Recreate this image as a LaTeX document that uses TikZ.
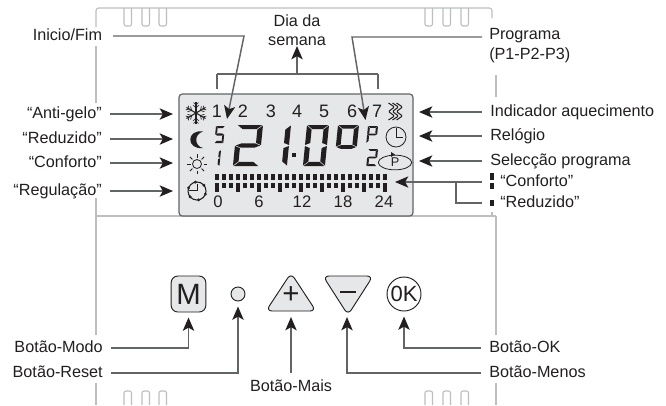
\documentclass[tikz,border=0pt]{standalone}
\usepackage{fontspec}
\setmainfont{Liberation Sans}
\usetikzlibrary{arrows.meta,shapes.geometric,calc}
\definecolor{ink}{HTML}{231F20}
\definecolor{wire}{HTML}{636466}
\definecolor{shell}{HTML}{BCBEC0}
\definecolor{panel}{HTML}{E6E7E8}
\newcommand{\sgx}{.2}\newcommand{\sgy}{.1}\newcommand{\sgp}{.03}\newcommand{\sgq}{.012}
\newcommand{\sega}{\fill (\sgp,0)--({1-\sgp},0)--({1-\sgp-\sgx},\sgy)--({\sgp+\sgx},\sgy)--cycle;}
\newcommand{\segd}{\fill (\sgp,1)--({1-\sgp},1)--({1-\sgp-\sgx},{1-\sgy})--({\sgp+\sgx},{1-\sgy})--cycle;}
\newcommand{\segg}{\fill (\sgp,.5)--({\sgp+\sgx},{.5-\sgy/2})--({1-\sgp-\sgx},{.5-\sgy/2})--({1-\sgp},.5)--({1-\sgp-\sgx},{.5+\sgy/2})--({\sgp+\sgx},{.5+\sgy/2})--cycle;}
\newcommand{\segf}{\fill (0,\sgq)--(\sgx,{\sgq+\sgy})--(\sgx,{.5-\sgq-\sgy/2})--(0,{.5-\sgq})--cycle;}
\newcommand{\sege}{\fill (0,{.5+\sgq})--(\sgx,{.5+\sgq+\sgy/2})--(\sgx,{1-\sgq-\sgy})--(0,{1-\sgq})--cycle;}
\newcommand{\segb}{\fill (1,\sgq)--({1-\sgx},{\sgq+\sgy})--({1-\sgx},{.5-\sgq-\sgy/2})--(1,{.5-\sgq})--cycle;}
\newcommand{\segc}{\fill (1,{.5+\sgq})--({1-\sgx},{.5+\sgq+\sgy/2})--({1-\sgx},{1-\sgq-\sgy})--(1,{1-\sgq})--cycle;}
% x, y of top-left; width; height; x-thickness; y-thickness; segments
\newcommand{\sevenseg}[7]{\begin{scope}[shift={(#1,#2)},x={(#3*0.75pt,0pt)},y={(-0.1*#4*0.75pt,-#4*0.75pt)},ink]
\renewcommand{\sgx}{#5}\renewcommand{\sgy}{#6}
\foreach \sgname in {#7}{\csname seg\sgname\endcsname}
\end{scope}}
\tikzset{
  x=0.75pt,y=-0.75pt,
  lbl/.style={font=\fontsize{12.15}{14}\selectfont,text=ink,inner ysep=0pt,inner xsep=6pt,text height=9pt,text depth=3pt},
  lbll/.style={lbl,anchor=east},
  lblr/.style={lbl,anchor=west},
  lcdtop/.style={font=\fontsize{13.5}{14}\selectfont,text=ink,inner sep=0pt},
  lcdnum/.style={font=\fontsize{12.5}{14}\selectfont,text=ink,inner sep=0pt},
  wireline/.style={draw=wire,line width=1.1pt},
  arr/.style={wireline,-{Stealth[length=10pt,width=8.5pt,inset=2.4pt,color=ink]}},
  halo/.style={draw=white,line width=1pt,-{Stealth[length=10pt,width=8.5pt,inset=2.4pt,color=white,line width=2.4pt]}},
  shellline/.style={draw=shell,line width=0.8pt},
  btn/.style={draw=ink,fill=panel,line width=0.7pt},
  sym/.style={draw=ink,line width=0.6pt},
}
\begin{document}
\begin{tikzpicture}
\useasboundingbox (0,0) rectangle (666,405);
\fill[white] (0,0) rectangle (666,405);
% housing outline
\draw[shellline,rounded corners=2pt] (96,27) -- (96,8) -- (492,8) -- (492,18);
\draw[shellline] (96,46) -- (96,103);
\draw[shellline] (96,198) -- (96,335);
\draw[shellline] (96,383) -- (96,405);
\draw[shellline] (496,75) -- (496,97);
\draw[shellline] (496,216) -- (496,335);
\draw[shellline] (496,383) -- (496,405);
\draw[shellline] (96,216) -- (496,216);
\draw[shellline] (492,212) -- (492,216);
\foreach \tx in {124,142,159,425,443,461}{
  \draw[shellline,rounded corners=1.5pt] (\tx,8) -- (\tx,26) -- (\tx+7.5,26) -- (\tx+7.5,8);
  \draw[shellline,rounded corners=1.5pt] (\tx,405) -- (\tx,391) -- (\tx+7.5,391) -- (\tx+7.5,405);
}
% LCD
\draw[draw=wire,fill=panel,line width=0.9pt,rounded corners=2.5pt] (179,94) rectangle (413,216);
\foreach \dn/\dx/\dt in {d1/217/1,d2/243/2,d3/271/3,d4/297/4,d5/324/5,d6/352/6,d7/377/7}
  \node[lcdtop] (\dn) at (\dx,111.5) {\dt};
\foreach \dn/\dx/\dt in {h0/218/0,h6/259/6,h12/302/12,h18/343/18,h24/384/24}
  \node[lcdnum] (\dn) at (\dx,202) {\dt};
% bar graph
\foreach \bi in {0,...,24}{
  \fill[ink] (215.3+7*\bi,174) rectangle (218.9+7*\bi,180);
  \pgfmathsetmacro{\bl}{mod(\bi,3)==0 ? 191.5 : 188}
  \fill[ink] (215.3+7*\bi,183) rectangle (218.9+7*\bi,\bl);
}
% large digits
\sevenseg{237}{125}{26}{41}{.2}{.1}{a,b,g,e,d}
\sevenseg{265}{125}{26}{41}{.2}{.1}{b,c}
\fill[ink] (292,153) rectangle (296,157);
\sevenseg{307}{125}{22}{41}{.23}{.1}{a,b,c,d,e,f}
\sevenseg{338}{125}{21}{44}{.22}{.085}{a,b,g,f}
% small digits
\sevenseg{216}{126}{9}{17}{.2}{.12}{a,f,g,c,d}
\sevenseg{212}{150}{9}{16}{.22}{.1}{b,c}
\sevenseg{368}{126}{10}{17}{.2}{.11}{a,b,f,e,g}
\sevenseg{368}{149}{10}{17}{.2}{.11}{a,b,g,e,d}
% snowflake
\foreach \sa in {90,30,-30,-90,150,210}{
  \begin{scope}[shift={(196,113)},rotate=\sa]
    \draw[sym,line width=0.8pt] (0,0) -- (11,0);
    \draw[sym,line width=0.5pt] (5,0) -- (8,3) (5,0) -- (8,-3) (8,0) -- (10.5,2.5) (8,0) -- (10.5,-2.5);
  \end{scope}
}
% moon
\fill[ink] (203,131.5) .. controls (186,129) and (186,150) .. (203,148) .. controls (194,146) and (194,134) .. (203,131.5) -- cycle;
% sun
\draw[sym] (197,164) circle[radius=4.5];
\foreach \sa in {0,45,...,315}{
  \draw[sym] ($(197,164)+(\sa:6.5)$) -- ($(197,164)+(\sa:10)$);
}
% regulation clock
\draw[sym,line width=0.8pt] (197,191) circle[radius=9];
\foreach \sa in {20,80,140,200,260,320}{
  \fill[ink] ($(197,191)+(\sa:9)$) circle[radius=1.6];
}
\draw[sym] (189,190) -- (197,190) -- (197,184);
% heating symbol
\foreach \hx in {388.5,392.5,396.5}{
  \draw[sym,line width=0.8pt,rounded corners=0.8pt] (\hx,103) -- (\hx+6,107) -- (\hx,111.5) -- (\hx+6,116) -- (\hx,120);
}
% clock
\draw[sym] (396,137) circle[radius=10];
\draw[sym] (396,128) -- (396,137) -- (403,137);
% programme selector
\node[ellipse,draw=ink,line width=0.6pt,minimum width=25pt,minimum height=11pt,inner sep=0pt,font=\fontsize{9.5}{10}\selectfont,text=ink] (psel) at (395,162.5) {P};
\fill[ink] (395,154.5) -- (391,152) -- (391,157) -- cycle;
% buttons
\node[btn,rounded corners=5pt,minimum width=26pt,minimum height=27pt,inner sep=0pt,font=\fontsize{22}{24}\selectfont,text=ink] (modo) at (188.5,294) {M};
\node[btn,circle,minimum size=10.5pt,inner sep=0pt] (reset) at (238,294) {};
\draw[btn,rounded corners=4.5pt] (291,273) -- (316,311) -- (266,311) -- cycle;
\node[inner sep=0pt,font=\fontsize{22}{24}\selectfont,text=ink] (mais) at (291,295.5) {+};
\draw[btn,rounded corners=4.5pt] (348,315) -- (323,276) -- (373,276) -- cycle;
\node[inner sep=0pt,minimum width=12pt,minimum height=2.2pt,fill=ink] (menos) at (347.5,292) {};
\node[circle,draw=ink,fill=white,line width=0.7pt,minimum size=25.5pt,inner sep=0pt,font=\fontsize{16.5}{18}\selectfont,text=ink] (ok) at (404,294) {0K};
% labels
\node[lbll,inner xsep=8pt] (inicio) at (113,36) {Inicio/Fim};
\node[lbll] (anti) at (110,114) {“Anti-gelo”};
\node[lbll] (redu) at (110,139) {“Reduzido”};
\node[lbll] (conf) at (110,163) {“Conforto”};
\node[lbll] (regu) at (110,191) {“Regulação”};
\node[lbll] (bmodo) at (111,348) {Botão-Modo};
\node[lbll] (breset) at (111,373) {Botão-Reset};
\node[lblr] (aquec) at (482,112) {Indicador aquecimento};
\node[lblr] (relog) at (482,136) {Relógio};
\node[lblr] (selec) at (482,161) {Selecção programa};
\node[lblr] (bok) at (481,348) {Botão-OK};
\node[lblr] (bmenos) at (481,373) {Botão-Menos};
\coordinate (confstart) at (482,182);
\coordinate (redustart) at (482,203);
\node[lbl,anchor=west,inner xsep=0pt] (lconf) at (500,182) {“Conforto”};
\node[lbl,anchor=west,inner xsep=0pt] (lredu) at (500,203) {“Reduzido”};
\node[lbl,anchor=north,inner xsep=0pt,text height=13.5pt] (bmais) at (291,373) {Botão-Mais};
\node[anchor=south,align=center,inner sep=0pt,font=\fontsize{12.15}{14.5}\selectfont,text=ink] (dia) at (297,46) {Dia da\\semana};
\node[anchor=north west,align=left,inner sep=0pt,font=\fontsize{12.15}{14.5}\selectfont,text=ink] (prog) at (489,28.5) {Programa\\(P1-P2-P3)};
% legend marks
\fill[ink] (490,173) rectangle (494,180);
\fill[ink] (490,183) rectangle (494,189);
\fill[ink] (490,200) rectangle (494,206);
% named ends
\coordinate (tinicio) at (227,119);
\coordinate (binicio) at (244,36);
\coordinate (tprog) at (365.5,120);
\coordinate (bprog) at (352,37);
\coordinate (sprog) at (482,37);
\coordinate (brL) at (217,89);
\coordinate (brLt) at (217,74);
\coordinate (brR) at (378,89);
\coordinate (brRt) at (378,74);
\coordinate (brM) at (297,74);
\coordinate (tanti) at (173,114);
\coordinate (tredu) at (173,139);
\coordinate (tconf) at (173,163);
\coordinate (tregu) at (173,191);
\coordinate (taquec) at (419,112);
\coordinate (trelog) at (419,136);
\coordinate (tselec) at (419,161);
\coordinate (tbar) at (395,182);
\coordinate (junc) at (456,182);
\coordinate (tmais) at (291,317);
\coordinate (tmenos) at (347,317);
% white haloes
\draw[halo] (binicio) -- (tinicio);
\draw[halo] (bprog) -- (tprog);
\draw[halo] (confstart) -- (tbar);
% connectors
\draw[arr] (inicio.east) -- (binicio) -- (tinicio);
\draw[arr] (sprog) -- (bprog) -- (tprog);
\draw[wireline] (brL) -- (brLt);
\draw[wireline] (brR) -- (brRt);
\draw[wireline] (brLt) -- (brRt);
\draw[arr] (brM) -- (dia.south);
\draw[arr] (anti.east) -- (tanti);
\draw[arr] (redu.east) -- (tredu);
\draw[arr] (conf.east) -- (tconf);
\draw[arr] (regu.east) -- (tregu);
\draw[arr] (aquec.west) -- (taquec);
\draw[arr] (relog.west) -- (trelog);
\draw[arr] (selec.west) -- (tselec);
\draw[arr] (confstart) -- (tbar);
\draw[wireline] (redustart) -| (junc);
\draw[arr,shorten >=3.75pt] (bmodo.east) -| (modo.south);
\draw[arr,shorten >=3.75pt] (breset.east) -| (reset.south);
\draw[arr] (bmais.north) -- (tmais);
\draw[arr] (bmenos.west) -| (tmenos);
\draw[arr,shorten >=3.75pt] (bok.west) -| (ok.south);
\end{tikzpicture}
\end{document}
